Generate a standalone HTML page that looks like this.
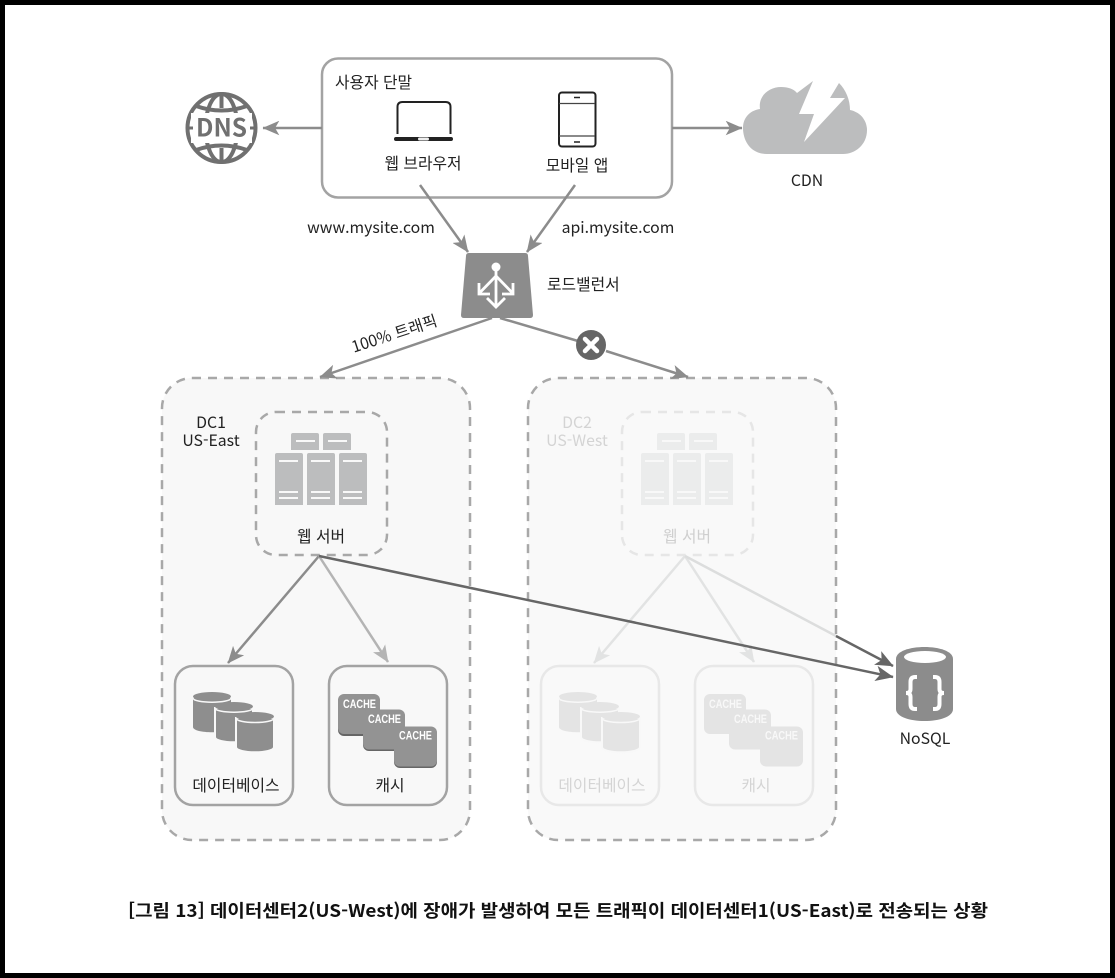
<!DOCTYPE html>
<html lang="ko"><head><meta charset="utf-8"><title>데이터센터 장애 상황</title>
<style>
html,body{margin:0;padding:0;background:#000}
svg{display:block}
text{font-family:"Noto Sans CJK KR","Liberation Sans",sans-serif;font-size:15.8px;fill:#222}
.c{text-anchor:middle}
.cap{font-family:"Noto Sans CJK KR","Liberation Sans",sans-serif;font-weight:700;font-size:17.5px;fill:#111}
.ca{font-family:"Liberation Sans",sans-serif;font-weight:700;font-size:11.5px;fill:#fff}
</style></head><body>
<svg width="1115" height="978" viewBox="0 0 1115 978" xmlns="http://www.w3.org/2000/svg">
<defs>
<marker id="a1" viewBox="0 0 14 12" refX="13.500" refY="6" markerWidth="17" markerHeight="14.500" markerUnits="userSpaceOnUse" orient="auto"><path d="M0 0L14 6L0 12L3.500 6Z" fill="#8c8c8c"/></marker>
<marker id="a2" viewBox="0 0 14 12" refX="13.500" refY="6" markerWidth="17" markerHeight="14.500" markerUnits="userSpaceOnUse" orient="auto"><path d="M0 0L14 6L0 12L3.500 6Z" fill="#b4b4b4"/></marker>
<marker id="a3" viewBox="0 0 14 12" refX="13.500" refY="6" markerWidth="18" markerHeight="15.500" markerUnits="userSpaceOnUse" orient="auto"><path d="M0 0L14 6L0 12L3.500 6Z" fill="#666"/></marker>
<marker id="a4" viewBox="0 0 14 12" refX="13.500" refY="6" markerWidth="17" markerHeight="14.500" markerUnits="userSpaceOnUse" orient="auto"><path d="M0 0L14 6L0 12L3.500 6Z" fill="#e2e3e3"/></marker>
<g id="srv">
<path d="M293 433h24q2 0 2 2v15h-28v-15q0-2 2-2zM325 433h24q2 0 2 2v15h-28v-15q0-2 2-2z"/>
<path d="M277 453h24q2 0 2 2v50h-28v-50q0-2 2-2zM309 453h24q2 0 2 2v50h-28v-50q0-2 2-2zM341 453h24q2 0 2 2v50h-28v-50q0-2 2-2z"/>
<g stroke="#f8f8f8" stroke-width="2" fill="none"><path d="M296 441h19M328 441h19M279 461h19M311 461h19M343 461h19M279 492h19M311 492h19M343 492h19M279 498h19M311 498h19M343 498h19"/></g>
</g>
<g id="db">
<path d="M193 698v29c0 7 38 7 38 0v-29z"/>
<path d="M193 698c0 5.600 38 5.600 38 0" fill="none" stroke="#f8f8f8" stroke-width="1.500"/>
<ellipse cx="212" cy="696.500" rx="19" ry="4.500"/>
<path d="M215 708v29c0 7 38 7 38 0v-29z" stroke="#f8f8f8" stroke-width="2"/>
<path d="M215 708c0 5.600 38 5.600 38 0" fill="none" stroke="#f8f8f8" stroke-width="1.500"/>
<ellipse cx="234" cy="706.500" rx="19" ry="4.500"/>
<path d="M236 718v29c0 7 38 7 38 0v-29z" stroke="#f8f8f8" stroke-width="2"/>
<path d="M236 718c0 6 38 6 38 0" fill="none" stroke="#f8f8f8" stroke-width="1.500"/>
<ellipse cx="255" cy="716.500" rx="19" ry="4.500"/>
</g>
</defs>
<rect width="1115" height="978" fill="#000"/>
<rect x="5" y="5" width="1105" height="968" fill="#fff"/>

<!-- top box -->
<rect x="322" y="58.500" width="350" height="139" rx="16" fill="#fff" stroke="#a3a3a3" stroke-width="2.500"/>
<text x="335" y="88">사용자 단말</text>
<text x="423" y="169" class="c">웹 브라우저</text>
<text x="577" y="171" class="c">모바일 앱</text>
<!-- laptop -->
<path d="M397.500 134V107q0-5 5-5h43q5 0 5 5v27" fill="none" stroke="#222" stroke-width="2"/>
<rect x="394" y="137" width="59" height="4" rx="2" fill="#222"/><rect x="418" y="137.500" width="11" height="3" rx="1.500" fill="#eee"/>
<!-- tablet -->
<rect x="559" y="92.500" width="36.500" height="54" rx="3" fill="#fff" stroke="#222" stroke-width="2"/>
<path d="M559 103.500h36M559 136h36" stroke="#444" stroke-width="1.200"/><path d="M574 97.500h6M574 142h6" stroke="#222" stroke-width="1.500"/>

<!-- DNS -->
<g fill="none" stroke="#707070" stroke-width="4">
<circle cx="221.500" cy="128" r="34"/>
<ellipse cx="221.500" cy="128" rx="16" ry="34"/>
<path d="M221.500 94v14M221.500 148v14M196 106q25.500 9 51 0M196 150q25.500-9 51 0"/>
</g>
<rect x="191" y="113" width="61" height="30" fill="#fff"/>
<path d="M187 128h6M250 128h6" stroke="#707070" stroke-width="3"/>
<text x="221.500" y="136.500" class="c" style="font-size:25px;font-weight:700;fill:#707070" textLength="51" lengthAdjust="spacingAndGlyphs">DNS</text>

<!-- CDN -->
<path d="M767 154C750 154 743 140 743 128C743 116 752 110 760 109C758 95 770 87 781 87C788 87 794 89 797 93L813 81L799 114H814L804 142L845 98L830 98L839 83C846 90 850 100 850 110C860 112 867 120 867 130C867 145 855 154 843 154Z" fill="#bcbdbe"/>
<text x="807" y="186" class="c">CDN</text>

<!-- DC boxes -->
<rect x="162" y="378" width="308" height="462" rx="30" fill="#f8f8f8" stroke="#a8a8a8" stroke-width="2.500" stroke-dasharray="9 7"/>
<rect x="528" y="378" width="308" height="462" rx="30" fill="#f9f9f9" stroke="#a8a8a8" stroke-width="2.500" stroke-dasharray="9 7"/>

<!-- top arrows -->
<g fill="none" stroke="#8c8c8c" stroke-width="2.500">
<path d="M322 128H263" marker-end="url(#a1)"/>
<path d="M672 128H742" marker-end="url(#a1)"/>
<path d="M420 185L468 252" marker-end="url(#a1)"/>
<path d="M575 185L527 252" marker-end="url(#a1)"/>
<path d="M492 318L320 377" marker-end="url(#a1)"/>
<path d="M500 318L578 341"/>
<path d="M606 351L688 377" marker-end="url(#a1)"/>
</g>
<text x="371" y="233" class="c">www.mysite.com</text>
<text x="618" y="233" class="c">api.mysite.com</text>
<text x="547" y="290">로드밸런서</text>
<text transform="translate(396 339) rotate(-18)" class="c">100% 트래픽</text>

<!-- LB -->
<path d="M471 253h54q3 0 3 3l5 59q0 3-3 3h-66q-3 0-3-3l5-59q0-3 3-3z" fill="#8c8c8c"/>
<g fill="none" stroke="#fff" stroke-width="2.800"><path d="M496 267V307M496 276L479.500 293M496 276L512.500 293M479 283v11h11M513 283v11h-11M487 298l9 9 9-9"/></g>
<circle cx="496" cy="267" r="4.500" fill="#fff"/>

<!-- X -->
<circle cx="591" cy="345" r="15" fill="#666"/>
<path d="M585 339l12 12M597 339l-12 12" stroke="#fff" stroke-width="4.500" stroke-linecap="round"/>

<!-- DC1 -->
<rect x="256" y="412" width="131" height="143" rx="20" fill="none" stroke="#a8a8a8" stroke-width="2.500" stroke-dasharray="9 7"/>
<use href="#srv" fill="#bcbdbe"/>
<text x="211" y="428" class="c">DC1</text>
<text x="211" y="446" class="c">US-East</text>
<text x="321" y="542" class="c">웹 서버</text>
<rect x="175" y="666" width="118" height="139" rx="18" fill="none" stroke="#a3a3a3" stroke-width="2.500"/>
<rect x="329" y="666" width="118" height="139" rx="18" fill="none" stroke="#a3a3a3" stroke-width="2.500"/>
<use href="#db" fill="#8e8e8e"/>
<text x="236" y="791" class="c">데이터베이스</text>
<text x="390" y="791" class="c">캐시</text>
<g fill="#666">
<rect x="338" y="696" width="42" height="40" rx="6"/><rect x="363" y="711" width="42" height="40" rx="6"/><rect x="394" y="728" width="43" height="40" rx="6"/>
</g>
<g fill="#939393">
<rect x="338" y="694" width="42" height="40" rx="6"/><rect x="363" y="709.500" width="42" height="40" rx="6"/><rect x="394" y="726.500" width="43" height="40" rx="6"/>
</g>
<text x="343" y="708" class="ca" textLength="33" lengthAdjust="spacingAndGlyphs">CACHE</text><text x="368" y="723" class="ca" textLength="33" lengthAdjust="spacingAndGlyphs">CACHE</text><text x="399" y="739.500" class="ca" textLength="33" lengthAdjust="spacingAndGlyphs">CACHE</text>

<!-- DC2 -->
<rect x="622" y="412" width="131" height="143" rx="20" fill="none" stroke="#e6e6e6" stroke-width="2.500" stroke-dasharray="9 7"/>
<use href="#srv" x="366" fill="#ebecec"/>
<text x="577" y="428" class="c" style="fill:#d4d4d4">DC2</text>
<text x="577" y="446" class="c" style="fill:#d4d4d4">US-West</text>
<text x="687" y="542" class="c" style="fill:#cfcfcf">웹 서버</text>
<rect x="541" y="666" width="118" height="139" rx="18" fill="none" stroke="#e8e8e8" stroke-width="2.500"/>
<rect x="695" y="666" width="118" height="139" rx="18" fill="none" stroke="#e8e8e8" stroke-width="2.500"/>
<use href="#db" x="366" fill="#e4e4e4"/>
<text x="602" y="791" class="c" style="fill:#d4d4d4">데이터베이스</text>
<text x="756" y="791" class="c" style="fill:#d4d4d4">캐시</text>
<g fill="#e4e4e4"><rect x="704" y="694" width="42" height="40" rx="6"/><rect x="729" y="709.500" width="42" height="40" rx="6"/><rect x="760" y="726.500" width="43" height="40" rx="6"/></g>
<g style="opacity:.75"><text x="709" y="708" class="ca" textLength="33" lengthAdjust="spacingAndGlyphs">CACHE</text><text x="734" y="723" class="ca" textLength="33" lengthAdjust="spacingAndGlyphs">CACHE</text><text x="765" y="739.500" class="ca" textLength="33" lengthAdjust="spacingAndGlyphs">CACHE</text></g>

<!-- connectors lower -->
<g fill="none" stroke-width="2.500">
<path d="M685 556L594 663" stroke="#e2e3e3" marker-end="url(#a4)"/>
<path d="M685 556L754 662" stroke="#e2e3e3" marker-end="url(#a4)"/>
<path d="M685 556L836 636" stroke="#dcdddd"/>
<path d="M836 636L893 666" stroke="#666" marker-end="url(#a3)"/>
<path d="M319 556L228 663" stroke="#8c8c8c" marker-end="url(#a1)"/>
<path d="M319 556L388 662" stroke="#b4b4b4" marker-end="url(#a2)"/>
<path d="M319 556L893 677" stroke="#666" marker-end="url(#a3)"/>
</g>

<!-- NoSQL -->
<path d="M896 659c0-16 57-16 57 0v50c0 16-57 16-57 0z" fill="#8c8c8c"/>
<ellipse cx="925" cy="657" rx="21" ry="6" fill="#fff"/>
<path d="M917 677h-2q-4.500 0-4.500 5v7q0 4-4.500 4q4.500 0 4.500 4v7q0 5 4.500 5h2M933 677h2q4.500 0 4.500 5v7q0 4 4.500 4q-4.500 0-4.500 4v7q0 5-4.500 5h-2" fill="none" stroke="#fff" stroke-width="4"/>
<text x="925" y="744" class="c">NoSQL</text>

<!-- caption -->
<text x="128" y="917" class="cap" textLength="860" lengthAdjust="spacingAndGlyphs">[그림 13] 데이터센터2(US-West)에 장애가 발생하여 모든 트래픽이 데이터센터1(US-East)로 전송되는 상황</text>
</svg>
</body></html>
